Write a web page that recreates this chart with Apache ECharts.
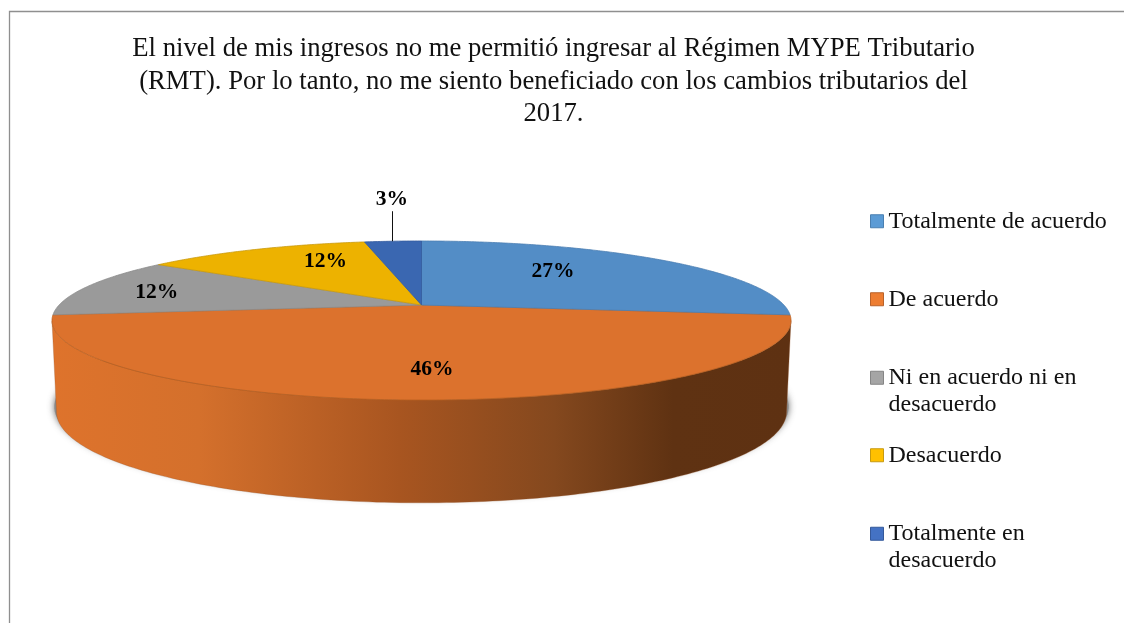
<!DOCTYPE html>
<html>
<head>
<meta charset="utf-8">
<style>html,body{margin:0;padding:0;background:#fff}#c{width:1124px;height:623px}</style>
<script src="https://cdn.jsdelivr.net/npm/echarts@6/dist/echarts.min.js"></script>
</head>
<body>
<div id="c"></div>
<script>
const titleText = 'El nivel de mis ingresos no me permitió ingresar al Régimen MYPE Tributario\n(RMT). Por lo tanto, no me siento beneficiado con los cambios tributarios del\n2017.';
const categories = ['Totalmente de acuerdo', 'De acuerdo', 'Ni en acuerdo ni en\ndesacuerdo', 'Desacuerdo', 'Totalmente en\ndesacuerdo'];
const values = [27, 46, 12, 12, 3];
const sliceColors = ['#538DC6', '#DC722D', '#9A9A9A', '#EDB200', '#3A67B1'];
const edgeColors = ['#4C7FB3', '#B9601F', '#8C8C8C', '#C99A10', '#345C9E'];
const legendColors = ['#5B9BD5', '#ED7D31', '#A5A5A5', '#FFC000', '#4472C4'];
const legendBorders = ['#4A7FB0', '#B8622A', '#858585', '#C79A10', '#35599A'];

// perspective disc geometry
const FONT = '"Liberation Serif","Times New Roman",serif';
const K = 0.195;
const TOP = {cx: 421.5, cy: 305, bx: 362.4, ay: 76.5};
const BOTTOM = {cx: 421.5, cy: 394, bx: 358, ay: 87.6};
// label placement for each slice: radial fraction plus nudge
const labelPlace = [[0.6, -20, -5], [0.6, 10.5, 12], [0.6, -60, -1], [0.6, 10, -8], [1, -1, -42]];

function proj(d, deg, f) {
  const t = deg * Math.PI / 180, u = Math.sin(t) * f, v = Math.cos(t) * f, w = 1 + K * v;
  return [d.cx + d.bx * u / w, d.cy - d.ay * v / w];
}
const total = values.reduce((a, b) => a + b, 0);
function startShare(i) {
  let s = 0;
  for (let j = 0; j < i; j++) s += values[j];
  return s / total;
}
const frontA = 101.2, frontB = 258.8;

function makeRender(i) {
  return function (params, api) {
    const v = api.value(0);
    const a0 = startShare(i) * 360, a1 = a0 + v / total * 360;
    const children = [];
    if (i === 1) {
      const sh = [];
      for (let a = 0; a < 360; a += 2) {
        const p = proj(BOTTOM, a, 1);
        sh.push([BOTTOM.cx + (p[0] - BOTTOM.cx) * 1.006, p[1] - 5]);
      }
      children.push({type: 'polygon', z2: 1, shape: {points: sh},
        style: {fill: '#8a8a8a', shadowBlur: 7, shadowColor: 'rgba(90,90,90,0.9)'}});
      const side = [];
      for (let a = frontA; a <= frontB; a += 1) side.push(proj(TOP, a, 1));
      for (let a = frontB; a >= frontA; a -= 1) side.push(proj(BOTTOM, a, 1));
      children.push({type: 'polygon', z2: 2, shape: {points: side},
        style: {
          fill: new echarts.graphic.LinearGradient(0, 0, 1, 0, [
            {offset: 0, color: '#DE732C'}, {offset: 0.2, color: '#D4702C'},
            {offset: 0.47, color: '#A85520'}, {offset: 0.68, color: '#84481E'},
            {offset: 0.84, color: '#5F3212'}, {offset: 1, color: '#5E3112'}
          ]),
          stroke: 'rgba(150,85,40,0.5)', lineWidth: 0.6
        }});
    }
    const pts = [proj(TOP, 0, 0)];
    for (let a = a0; a < a1; a += 0.5) pts.push(proj(TOP, a, 1));
    pts.push(proj(TOP, a1, 1));
    children.push({type: 'polygon', z2: 3, shape: {points: pts},
      style: {fill: sliceColors[i], stroke: edgeColors[i], lineWidth: 0.8}});
    const mid = (a0 + a1) / 2, lp = labelPlace[i], q = proj(TOP, mid, lp[0]);
    if (lp[0] === 1) {
      const lx = Math.round(q[0] - 1) + 0.5;
      children.push({type: 'line', z2: 4, shape: {x1: lx, y1: q[1], x2: lx, y2: q[1] - 30},
        style: {stroke: '#111', lineWidth: 1}});
    }
    children.push({type: 'text', z2: 5, style: {
      text: v + '%', x: q[0] + lp[1], y: q[1] + lp[2],
      align: 'center', verticalAlign: 'middle',
      font: 'bold 21.5px ' + FONT, fill: '#000'
    }});
    return {type: 'group', children: children};
  };
}

const chart = echarts.init(document.getElementById('c'), null, {renderer: 'canvas'});
const legendTops = [208, 286, 338, 442, 494];
chart.setOption({
  animation: false,
  backgroundColor: '#fff',
  title: {
    text: titleText, left: 548.5, top: 28, textAlign: 'center',
    textStyle: {fontFamily: FONT, fontSize: 26.7, fontWeight: 'normal', color: '#111', lineHeight: 32.5}
  },
  legend: categories.map((c, i) => ({
    data: [c], left: 870, top: legendTops[i], orient: 'vertical', selectedMode: false,
    icon: 'rect', itemWidth: 13, itemHeight: 13, padding: 0,
    itemStyle: {color: legendColors[i], borderColor: legendBorders[i], borderWidth: 1},
    formatter: name => name.indexOf('\n') >= 0 ? '\n' + name : name,
    textStyle: {fontFamily: FONT, fontSize: 24, color: '#111', lineHeight: 26.5}
  })),
  graphic: [{type: 'rect', silent: true, z: -1, shape: {x: 9.5, y: 11.5, width: 1300, height: 800},
    style: {fill: 'transparent', stroke: '#8f8f8f', lineWidth: 1.3}}],
  series: categories.map((c, i) => ({
    type: 'custom', name: c, coordinateSystem: 'none', silent: true,
    z: i === 1 ? 2 : 3,
    renderItem: makeRender(i), data: [[values[i]]],
    itemStyle: {color: legendColors[i]}
  }))
});
</script>
</body>
</html>
